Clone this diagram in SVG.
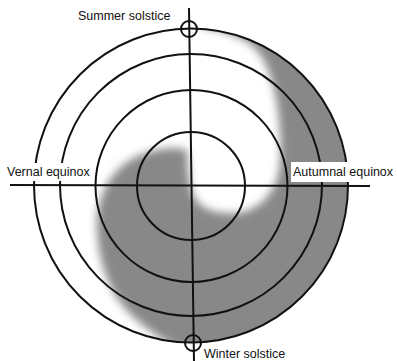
<svg xmlns="http://www.w3.org/2000/svg" width="397" height="361" viewBox="0 0 397 361">
<style>
.ring{fill:none;stroke:#111;stroke-width:2}
.axis{stroke:#111;stroke-width:2}
.lbl{font-family:"Liberation Sans",Arial,sans-serif;font-size:12.5px;fill:#111}
.bg{fill:#fff}
</style>
<defs>
<filter id="soft" x="-20%" y="-20%" width="140%" height="140%">
<feGaussianBlur stdDeviation="4.5"/>
</filter>
<clipPath id="disc">
<circle cx="191" cy="185.5" r="156.5"/>
</clipPath>
</defs>
<rect width="397" height="361" fill="#fff"/>
<g id="shade" clip-path="url(#disc)">
<path filter="url(#soft)" fill="#888" d="M198,18 L204,27 C218,29 232,34 244,40 C256,47 263,56 268,70 C274,85 277,100 279,120 C281,142 282,165 276,182 C268,200 255,211 238,213 C220,214 205,211 197,201 C190,193 188,175 187,150 C172,146 150,149 130,160 C112,172 100,190 97,218 C96,248 103,275 117,298 C132,320 158,338 185,352 C240,362 300,335 352,265 C370,220 368,150 352,105 C330,60 290,25 250,12 C230,8 212,10 198,18 Z"/>
</g>
<g id="rings">
<circle class="ring" cx="191" cy="185.5" r="157"/>
<circle class="ring" cx="191" cy="185" r="131"/>
<circle class="ring" cx="191.5" cy="186" r="96"/>
<circle class="ring" cx="191" cy="186" r="54"/>
</g>
<g id="connectors">
<line class="axis" x1="10" y1="185" x2="370" y2="186"/>
<line class="axis" x1="189" y1="8" x2="194" y2="361"/>
</g>
<g id="summer-solstice">
<circle class="ring" cx="189" cy="29" r="8"/>
<text class="lbl" x="78" y="20">Summer solstice</text>
</g>
<g id="winter-solstice">
<circle class="ring" cx="193" cy="343" r="8"/>
<text class="lbl" x="204" y="358">Winter solstice</text>
</g>
<g id="vernal-equinox">
<rect class="bg" x="5" y="163" width="89" height="18"/>
<text class="lbl" x="7" y="176">Vernal equinox</text>
</g>
<g id="autumnal-equinox">
<rect class="bg" x="291" y="162" width="106" height="20"/>
<text class="lbl" x="293" y="176">Autumnal equinox</text>
</g>
</svg>
